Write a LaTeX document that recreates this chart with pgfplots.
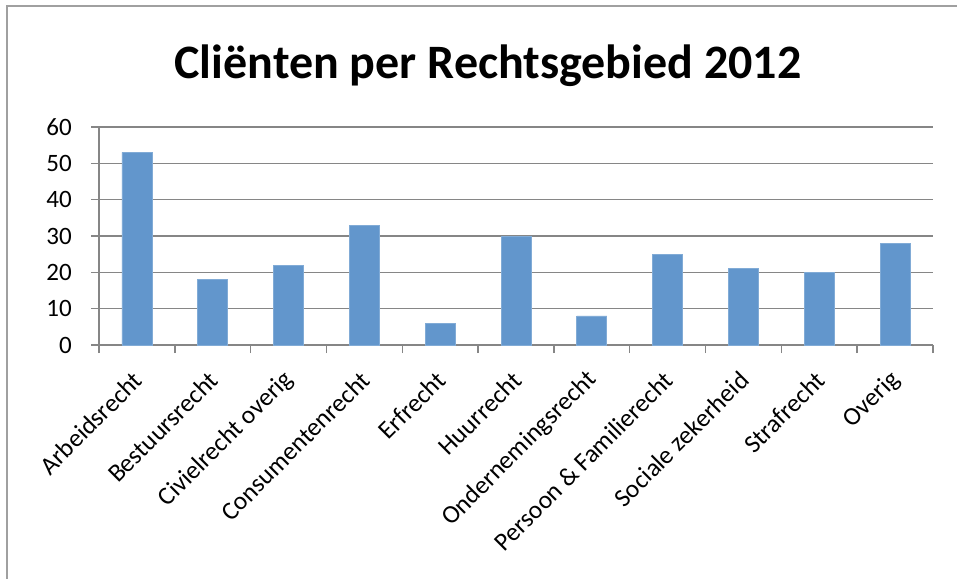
\documentclass[border=0pt]{standalone}
\usepackage{pgfplots}
\pgfplotsset{compat=1.18}
\usepackage{fontspec}
\setmainfont{Carlito}
\definecolor{barblue}{RGB}{98,150,204}
\definecolor{axgray}{RGB}{134,134,134}
\definecolor{framegray}{RGB}{160,160,160}
\begin{document}
\begin{tikzpicture}[x=1pt,y=1pt]
\useasboundingbox (0,0) rectangle (957,578);
\draw[framegray, line width=2.2pt] (7,-5) -- (7,572) -- (962,572);
\node[anchor=base, font=\fontsize{48}{54}\selectfont\bfseries] at (488,499) {Cliënten per Rechtsgebied 2012};
\begin{axis}[
  at={(99pt,233pt)}, anchor=south west,
  scale only axis, width=834pt, height=218pt,
  xmin=-0.5, xmax=10.5, ymin=0, ymax=60,
  axis x line*=bottom, axis y line*=left,
  axis line style={draw=axgray, line width=1.5pt, -},
  ybar, bar width=30pt,
  xtick={-0.5,0.5,...,10.5}, xticklabels={},
  ytick={0,10,...,60},
  tick align=outside, major tick length=8pt,
  tick style={draw=axgray, line width=1.5pt},
  ymajorgrids, grid style={draw=axgray, line width=1.5pt},
  /pgf/number format/assume math mode=true,
  yticklabel style={font=\fontsize{25}{28}\selectfont, anchor=east, inner sep=0pt, xshift=-19pt},
  extra x ticks={0,1,...,10},
  extra x tick labels={Arbeidsrecht,Bestuursrecht,Civielrecht overig,Consumentenrecht,Erfrecht,Huurrecht,Ondernemingsrecht,Persoon \& Familierecht,Sociale zekerheid,Strafrecht,Overig},
  extra x tick style={major tick length=0pt, xmajorgrids=false,
    tick label style={font=\fontsize{25.5}{30}\selectfont, xshift=1pt, yshift=-31pt, rotate=45, anchor=east, inner sep=0pt}},
]
\addplot[fill=barblue, draw=barblue!80!white, line width=0.8pt] coordinates {
(0,53) (1,18) (2,22) (3,33) (4,6) (5,30) (6,8) (7,25) (8,21) (9,20) (10,28)};
\end{axis}
\end{tikzpicture}
\end{document}
